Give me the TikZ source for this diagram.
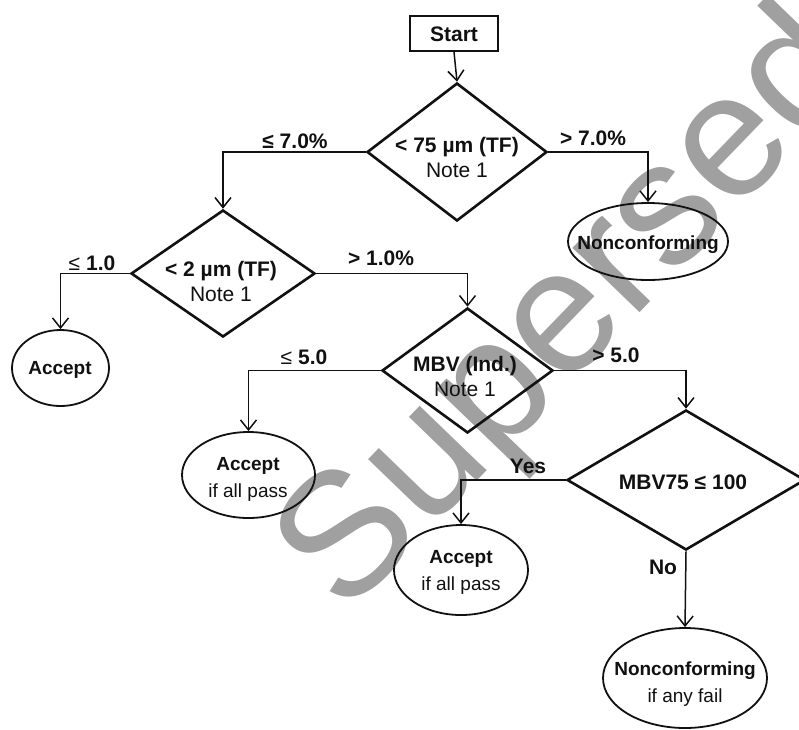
\documentclass[tikz,border=0pt]{standalone}
\usepackage{fontspec}
\setmainfont{Liberation Sans}
\usetikzlibrary{shapes.geometric,arrows.meta}
\definecolor{wmgray}{RGB}{160,160,160}
\definecolor{ink}{RGB}{17,17,17}
\tikzset{
  dia/.style={diamond, draw=ink, line width=2.6pt, inner sep=0pt},
  ell/.style={ellipse, draw=ink, line width=1.8pt, inner sep=0pt},
  boxst/.style={rectangle, draw=ink, line width=2pt, inner sep=0pt},
  arr/.style={draw=ink, line width=1.5pt, -{Straight Barb[length=10pt,width=16pt]}},
  big/.style={font=\fontsize{21}{25}\selectfont, text=ink, align=center, inner sep=0pt},
  mid/.style={font=\fontsize{19}{27}\selectfont, text=ink, align=center, inner sep=0pt},
  lbl/.style={font=\fontsize{21}{25}\selectfont\bfseries, text=ink, inner sep=0pt},
  wm/.style={font=\fontsize{176}{176}\selectfont, text=wmgray, inner sep=0pt}
}
\begin{document}
\begin{tikzpicture}[x=1pt,y=1pt]
\fill[white] (0,0) rectangle (799,-729);
\path[use as bounding box] (0,0) rectangle (799,-729);
% watermark
\node[wm, rotate=46] (wmark) at (642.5,-244) {Superseded};
% shapes
\node[boxst, minimum width=88pt, minimum height=35pt] (start) at (454,-33.5) {};
\node[big, font=\fontsize{21}{25}\selectfont\bfseries] (startt) at (454,-34) {Start};
\node[dia, minimum width=180pt, minimum height=138pt] (d1) at (457,-152) {};
\node[big] (d1t) at (457,-157) {\textbf{< 75 µm (TF)}\\Note 1};
\node[dia, minimum width=184pt, minimum height=127pt] (d2) at (223,-273.5) {};
\node[big] (d2t) at (221,-281) {\textbf{< 2 µm (TF)}\\Note 1};
\node[dia, minimum width=171pt, minimum height=125pt] (d3) at (467.5,-370.5) {};
\node[big] (d3t) at (465,-376) {\textbf{MBV (Ind.)}\\Note 1};
\node[dia, minimum width=238pt, minimum height=140pt] (d4) at (686,-480) {};
\node[big, font=\fontsize{21}{25}\selectfont\bfseries] (d4t) at (683,-482) {MBV75 ≤ 100};
\node[ell, minimum width=160pt, minimum height=77pt] (nc1) at (648,-241.5) {};
\node[mid, font=\fontsize{19}{27}\selectfont\bfseries] (nc1t) at (648,-245) {Nonconforming};
\node[ell, minimum width=97pt, minimum height=76pt] (acc1) at (60.5,-368) {};
\node[mid, font=\fontsize{19}{27}\selectfont\bfseries] (acc1t) at (60,-370) {Accept};
\node[ell, minimum width=133pt, minimum height=86pt] (acc2) at (248.5,-475) {};
\node[mid] (acc2t) at (248,-479) {\textbf{Accept}\\if all pass};
\node[ell, minimum width=134pt, minimum height=90pt] (acc3) at (461,-570) {};
\node[mid] (acc3t) at (461,-572) {\textbf{Accept}\\if all pass};
\node[ell, minimum width=164pt, minimum height=100pt] (nc2) at (685,-678) {};
\node[mid] (nc2t) at (685,-684) {\textbf{Nonconforming}\\if any fail};
% connectors
\draw[arr] (start.south) -- (d1.north);
\draw[arr] (d1.west) -| (d2.north);
\draw[arr] (d1.east) -| (nc1.north);
\draw[arr] (d2.west) -| (acc1.north);
\draw[arr] (d2.east) -| (d3.north);
\draw[arr] (d3.west) -| (acc2.north);
\draw[arr] (d3.east) -| (d4.north);
\draw[arr] (d4.west) -| (acc3.north);
\draw[arr] (d4.south) -- (nc2.north);
% labels
\node[lbl] (l1) at (295,-141) {≤ 7.0\%};
\node[lbl] (l2) at (593,-138) {> 7.0\%};
\node[lbl] (l3) at (92,-263) {{\mdseries ≤} 1.0};
\node[lbl] (l4) at (381,-258) {> 1.0\%};
\node[lbl] (l5) at (304,-357) {{\mdseries ≤} 5.0};
\node[lbl] (l6) at (616,-355) {> 5.0};
\node[lbl] (l7) at (528,-466) {Yes};
\node[lbl] (l8) at (663,-567) {No};
\end{tikzpicture}
\end{document}
